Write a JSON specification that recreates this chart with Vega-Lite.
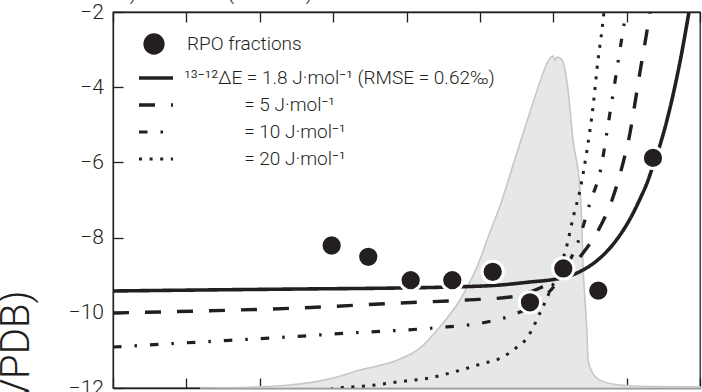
{
  "$schema": "https://vega.github.io/schema/vega-lite/v6.json",
  "width": 587,
  "height": 376,
  "autosize": "none",
  "padding": {"left": 113, "top": 12, "right": 2, "bottom": 4},
  "background": "white",
  "title": {"text": "a.) Travertine (TRL-P02)", "anchor": "start", "frame": "group", "fontSize": 19, "fontWeight": 300, "font": "Roboto", "color": "#231f20", "baseline": "bottom", "offset": -21.5, "dx": 2},
  "datasets": {
    "rpo": [
      {"kind": "RPO fractions", "T": 398.0, "d13C": -8.21},
      {"kind": "RPO fractions", "T": 447.9, "d13C": -8.51},
      {"kind": "RPO fractions", "T": 505.7, "d13C": -9.13},
      {"kind": "RPO fractions", "T": 562.4, "d13C": -9.13},
      {"kind": "RPO fractions", "T": 617.5, "d13C": -8.91},
      {"kind": "RPO fractions", "T": 668.3, "d13C": -9.72},
      {"kind": "RPO fractions", "T": 713.7, "d13C": -8.82},
      {"kind": "RPO fractions", "T": 761.4, "d13C": -9.41},
      {"kind": "RPO fractions", "T": 835.9, "d13C": -5.88}
    ],
    "thermo": [
      {"T": 218.6, "rate": 0},
      {"T": 300.3, "rate": 0.003},
      {"T": 341.2, "rate": 0.008},
      {"T": 382.1, "rate": 0.019},
      {"T": 401.2, "rate": 0.027},
      {"T": 436.6, "rate": 0.048},
      {"T": 487.1, "rate": 0.074},
      {"T": 518.4, "rate": 0.106},
      {"T": 541.6, "rate": 0.154},
      {"T": 572.9, "rate": 0.234},
      {"T": 596.1, "rate": 0.322},
      {"T": 613.8, "rate": 0.415},
      {"T": 627.4, "rate": 0.484},
      {"T": 645.2, "rate": 0.593},
      {"T": 668.3, "rate": 0.734},
      {"T": 681.9, "rate": 0.814},
      {"T": 691.5, "rate": 0.864},
      {"T": 697.0, "rate": 0.880},
      {"T": 699.7, "rate": 0.883},
      {"T": 702.4, "rate": 0.872},
      {"T": 705.1, "rate": 0.880},
      {"T": 712.0, "rate": 0.872},
      {"T": 720.1, "rate": 0.793},
      {"T": 726.9, "rate": 0.660},
      {"T": 736.5, "rate": 0.527},
      {"T": 739.2, "rate": 0.420},
      {"T": 740.6, "rate": 0.322},
      {"T": 743.3, "rate": 0.234},
      {"T": 746.0, "rate": 0.146},
      {"T": 747.4, "rate": 0.074},
      {"T": 752.8, "rate": 0.043},
      {"T": 763.7, "rate": 0.021},
      {"T": 791.0, "rate": 0.008},
      {"T": 831.9, "rate": 0.004},
      {"T": 900.0, "rate": 0.003}
    ],
    "model": [
      {"dE": "1.8", "T": 100.0, "d13C": -9.42},
      {"dE": "1.8", "T": 218.6, "d13C": -9.394},
      {"dE": "1.8", "T": 354.9, "d13C": -9.367},
      {"dE": "1.8", "T": 491.1, "d13C": -9.34},
      {"dE": "1.8", "T": 560.6, "d13C": -9.314},
      {"dE": "1.8", "T": 627.4, "d13C": -9.261},
      {"dE": "1.8", "T": 668.3, "d13C": -9.181},
      {"dE": "1.8", "T": 703.7, "d13C": -9.101},
      {"dE": "1.8", "T": 732.4, "d13C": -8.941},
      {"dE": "1.8", "T": 763.7, "d13C": -8.543},
      {"dE": "1.8", "T": 777.3, "d13C": -8.277},
      {"dE": "1.8", "T": 791.0, "d13C": -7.931},
      {"dE": "1.8", "T": 804.6, "d13C": -7.505},
      {"dE": "1.8", "T": 818.2, "d13C": -6.973},
      {"dE": "1.8", "T": 827.8, "d13C": -6.548},
      {"dE": "1.8", "T": 835.9, "d13C": -6.096},
      {"dE": "1.8", "T": 845.5, "d13C": -5.537},
      {"dE": "1.8", "T": 859.1, "d13C": -4.553},
      {"dE": "1.8", "T": 872.7, "d13C": -3.33},
      {"dE": "1.8", "T": 885.0, "d13C": -2.0},
      {"dE": "5", "T": 100.0, "d13C": -10.005},
      {"dE": "5", "T": 218.6, "d13C": -9.952},
      {"dE": "5", "T": 354.9, "d13C": -9.872},
      {"dE": "5", "T": 491.1, "d13C": -9.739},
      {"dE": "5", "T": 582.5, "d13C": -9.66},
      {"dE": "5", "T": 641.1, "d13C": -9.58},
      {"dE": "5", "T": 681.9, "d13C": -9.34},
      {"dE": "5", "T": 709.2, "d13C": -9.048},
      {"dE": "5", "T": 740.6, "d13C": -8.41},
      {"dE": "5", "T": 763.7, "d13C": -7.718},
      {"dE": "5", "T": 780.1, "d13C": -7.0},
      {"dE": "5", "T": 795.1, "d13C": -6.016},
      {"dE": "5", "T": 804.6, "d13C": -5.218},
      {"dE": "5", "T": 811.4, "d13C": -4.42},
      {"dE": "5", "T": 818.2, "d13C": -3.596},
      {"dE": "5", "T": 825.0, "d13C": -2.824},
      {"dE": "5", "T": 831.9, "d13C": -2.027},
      {"dE": "10", "T": 100.0, "d13C": -10.91},
      {"dE": "10", "T": 218.6, "d13C": -10.777},
      {"dE": "10", "T": 337.1, "d13C": -10.644},
      {"dE": "10", "T": 423.0, "d13C": -10.537},
      {"dE": "10", "T": 536.1, "d13C": -10.404},
      {"dE": "10", "T": 609.7, "d13C": -10.245},
      {"dE": "10", "T": 645.1, "d13C": -10.059},
      {"dE": "10", "T": 681.9, "d13C": -9.66},
      {"dE": "10", "T": 702.4, "d13C": -9.261},
      {"dE": "10", "T": 718.7, "d13C": -8.755},
      {"dE": "10", "T": 733.7, "d13C": -8.117},
      {"dE": "10", "T": 750.1, "d13C": -7.08},
      {"dE": "10", "T": 766.4, "d13C": -6.016},
      {"dE": "10", "T": 771.9, "d13C": -5.351},
      {"dE": "10", "T": 777.3, "d13C": -4.686},
      {"dE": "10", "T": 782.8, "d13C": -4.021},
      {"dE": "10", "T": 788.3, "d13C": -3.33},
      {"dE": "10", "T": 793.7, "d13C": -2.665},
      {"dE": "10", "T": 799.2, "d13C": -2.0},
      {"dE": "20", "T": 382.1, "d13C": -12.1},
      {"dE": "20", "T": 406.6, "d13C": -12.0},
      {"dE": "20", "T": 444.8, "d13C": -11.947},
      {"dE": "20", "T": 487.1, "d13C": -11.84},
      {"dE": "20", "T": 530.7, "d13C": -11.734},
      {"dE": "20", "T": 574.3, "d13C": -11.521},
      {"dE": "20", "T": 601.5, "d13C": -11.362},
      {"dE": "20", "T": 628.8, "d13C": -11.202},
      {"dE": "20", "T": 649.2, "d13C": -10.936},
      {"dE": "20", "T": 664.2, "d13C": -10.67},
      {"dE": "20", "T": 681.9, "d13C": -10.005},
      {"dE": "20", "T": 695.6, "d13C": -9.42},
      {"dE": "20", "T": 709.2, "d13C": -8.809},
      {"dE": "20", "T": 718.7, "d13C": -8.197},
      {"dE": "20", "T": 726.9, "d13C": -7.479},
      {"dE": "20", "T": 736.5, "d13C": -6.734},
      {"dE": "20", "T": 746.0, "d13C": -5.67},
      {"dE": "20", "T": 754.2, "d13C": -4.527},
      {"dE": "20", "T": 761.0, "d13C": -3.277},
      {"dE": "20", "T": 766.4, "d13C": -2.479},
      {"dE": "20", "T": 769.2, "d13C": -2.0}
    ]
  },
  "config": {
    "view": {"stroke": "#231f20", "strokeWidth": 1.3},
    "font": "Roboto",
    "axis": {"grid": false, "domain": true, "domainColor": "#231f20", "domainWidth": 1.3, "tickColor": "#231f20", "tickWidth": 1.3, "labelColor": "#231f20", "labelFont": "Roboto", "labelFontWeight": 300, "labelFontSize": 21, "titleColor": "#231f20", "titleFont": "Roboto", "zindex": 1},
    "legend": {"labelFont": "Roboto", "labelFontSize": 19, "labelFontWeight": 300, "labelColor": "#231f20", "padding": 0, "titlePadding": 0, "labelLimit": 0}
  },
  "resolve": {"scale": {"y": "independent"}, "axis": {"x": "independent"}},
  "layer": [
    {
      "data": {"name": "thermo"},
      "mark": {"type": "area", "fill": "#e6e7e8", "stroke": "#c6c7c9", "strokeWidth": 1.6, "interpolate": "monotone"},
      "encoding": {
        "x": {"field": "T", "type": "quantitative", "scale": {"domain": [100, 900], "nice": false, "zero": false},
              "axis": {"orient": "top", "values": [100, 200, 300, 400, 500, 600, 700, 800, 900], "labels": false, "tickSize": -10, "title": null}},
        "y": {"field": "rate", "type": "quantitative", "scale": {"domain": [0, 1], "nice": false}, "axis": null}
      }
    },
    {
      "layer": [
        {
          "data": {"name": "model"},
          "mark": {"type": "line", "stroke": "#231f20", "interpolate": "monotone", "clip": true},
          "encoding": {
            "x": {"field": "T", "type": "quantitative", "scale": {"domain": [100, 900], "nice": false, "zero": false},
                  "axis": {"orient": "bottom", "values": [100, 200, 300, 400, 500, 600, 700, 800, 900], "labels": false, "tickSize": -10, "title": null}},
            "y": {"field": "d13C", "type": "quantitative", "scale": {"domain": [-12, -2], "nice": false, "zero": false},
                  "axis": {"orient": "left", "values": [-12, -10, -8, -6, -4, -2], "tickSize": -10, "labelPadding": 19.5,
                           "title": "δ¹³C (‰ VPDB)", "titleFontSize": 40, "titleFontWeight": 300, "titleAngle": -90, "titleLimit": 0,
                           "titleX": -85, "titleY": 278, "titleAlign": "right", "titleBaseline": "alphabetic"}},
            "strokeDash": {"field": "dE", "type": "nominal",
                           "scale": {"domain": ["1.8", "5", "10", "20"], "range": [[1, 0], [16, 16], [8.5, 13, 2.5, 13], [3, 7.6]]},
                           "legend": {"orient": "none", "legendX": 24, "legendY": 53, "title": null, "symbolType": "stroke", "symbolSize": 1156,
                                      "symbolStrokeWidth": 3, "symbolStrokeColor": "#231f20", "labelOffset": 9, "rowPadding": 1, "clipHeight": 26,
                                      "labelExpr": "datum.value === '1.8' ? '¹³⁻¹²ΔE = 1.8 J·mol⁻¹ (RMSE = 0.62‰)' : '\u200b\u00a0\u00a0\u00a0\u00a0\u00a0\u00a0\u00a0\u00a0\u00a0\u00a0\u00a0\u00a0\u00a0= ' + datum.value + ' J·mol⁻¹'",
                                      "encode": {"symbols": {"update": {
                                        "strokeDash": {"signal": "datum.value === '5' ? [12, 7] : datum.value === '10' ? [8, 6, 3, 6] : datum.value === '20' ? [3, 10] : [1, 0]"},
                                        "strokeWidth": {"signal": "datum.value === '1.8' ? 4 : 3"}}}}}},
            "strokeWidth": {"field": "dE", "type": "nominal", "scale": {"domain": ["1.8", "5", "10", "20"], "range": [3.6, 3, 3, 3]}, "legend": null}
          }
        },
        {
          "data": {"name": "rpo"},
          "mark": {"type": "point", "filled": true, "size": 452, "stroke": "white", "strokeWidth": 3, "opacity": 1, "strokeOpacity": 1},
          "encoding": {
            "x": {"field": "T", "type": "quantitative"},
            "y": {"field": "d13C", "type": "quantitative"},
            "fill": {"field": "kind", "type": "nominal", "scale": {"range": ["#231f20"]},
                     "legend": {"orient": "none", "legendX": 30, "legendY": 21, "title": null, "symbolType": "circle", "symbolSize": 452,
                                "symbolStrokeWidth": 0, "symbolOpacity": 1, "labelOffset": 22}}
          }
        }
      ]
    }
  ]
}
